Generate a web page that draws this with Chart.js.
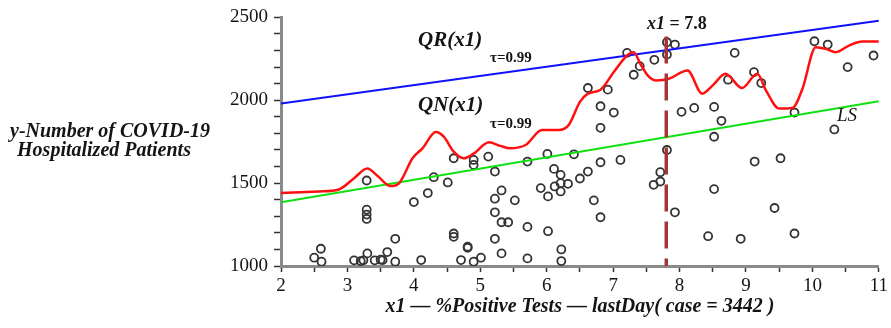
<!DOCTYPE html>
<html>
<head>
<meta charset="utf-8">
<script src="https://cdn.jsdelivr.net/npm/chart.js@4"></script>
<style>
  html, body { margin: 0; padding: 0; background: #fff; }
  #wrap { width: 891px; height: 328px; }
</style>
</head>
<body>
<div id="wrap"><canvas id="c" width="891" height="328"></canvas></div>
<script>
// Observed cases: % positive tests (last day) vs. hospitalized patients
const obsX = [2.50,2.60,2.61,3.10,3.20,3.24,3.30,3.29,3.29,3.29,3.29,3.41,3.50,3.53,3.60,3.72,3.72,
  4.00,4.11,4.21,4.30,4.51,4.60,4.60,4.60,4.71,4.81,4.81,4.90,4.90,4.90,5.01,5.12,5.22,5.22,5.22,5.22,
  5.32,5.32,5.32,5.42,5.52,5.71,5.71,5.71,5.91,6.01,6.02,6.02,6.11,6.12,6.21,6.21,6.21,6.32,6.22,6.22,
  6.41,6.50,6.62,6.62,6.71,6.81,6.81,6.81,6.81,6.92,7.01,7.11,7.21,7.31,7.40,7.61,7.62,7.71,7.71,
  7.81,7.81,7.81,7.93,7.93,8.03,8.22,8.43,8.52,8.52,8.52,8.63,8.73,8.83,8.92,9.12,9.13,9.23,9.43,
  9.52,9.73,9.73,10.03,10.23,10.33,10.53,10.92];
const obsY = [1050,1104,1026,1034,1030,1034,1076,1516,1340,1310,1284,1034,1038,1036,1084,1026,1164,
  1386,1036,1440,1536,1504,1650,1196,1176,1036,1116,1110,1640,1610,1026,1050,1660,1570,1406,1324,1164,
  1456,1264,1076,1264,1396,1630,1236,1046,1470,1676,1420,1210,1586,1480,1550,1500,1450,1496,1100,1030,
  1674,1528,1570,2074,1396,1964,1834,1626,1294,2064,1926,1640,2286,2154,2206,1490,2244,1566,1510,
  2350,2276,1700,2336,1324,1930,1954,1180,1960,1780,1464,1876,2124,2286,1164,2170,1630,2104,1350,
  1650,1926,1196,2356,2336,1824,2200,2270];

// Nonparametric quantile curve QN(x1), tau = 0.99
const qnX = [2.00,2.57,2.87,3.10,3.30,3.45,3.65,3.78,3.98,4.13,4.33,4.45,4.60,4.75,4.90,5.13,5.30,5.45,
  5.68,5.93,6.18,6.33,6.50,6.62,6.81,7.01,7.21,7.31,7.41,7.52,7.64,7.84,8.12,8.34,8.50,8.69,8.94,9.17,
  9.30,9.50,9.70,9.85,10.05,10.20,10.35,10.55,10.75,11.00];
const qnY = [1440,1450,1462,1530,1588,1545,1482,1500,1650,1710,1808,1780,1690,1650,1678,1746,1725,1710,
  1730,1820,1820,1850,1990,2040,2064,2170,2270,2290,2220,2150,2120,2130,2180,2040,2090,2160,2074,2160,
  2060,1950,1954,2070,2320,2310,2290,2330,2354,2354];

// Linear quantile regression QR(x1), tau = 0.99, and least-squares line LS
const qrX = [2, 11];
const qrY = [1980, 2480];
const lsX = [2, 11];
const lsY = [1384, 1994];

// Marked value of x1
const markX = 7.8;
const markY = [2385, 1000];

// Axis ranges and labelled ticks
const xRange = [2, 11];
const yRange = [1000, 2500];
const yLabelled = [1000, 1500, 2000, 2500];
const xLabelled = [2, 3, 4, 5, 6, 7, 8, 9, 10, 11];

const yTitleLines = ['y-Number of COVID-19', 'Hospitalized Patients'];
const xTitle = 'x1 \u2014 %Positive Tests \u2014 lastDay( case = 3442 )';

const pts = (xs, ys) => xs.map((x, i) => ({ x: x, y: ys[i] }));

const SERIF = '"Liberation Serif", "Times New Roman", serif';

const annotate = {
  id: 'annotate',
  afterDraw(chart) {
    const ctx = chart.ctx;
    ctx.save();
    ctx.fillStyle = '#141414';
    ctx.textBaseline = 'alphabetic';

    // vertical axis title, written horizontally on two lines
    ctx.textAlign = 'center';
    ctx.font = 'italic bold 20px ' + SERIF;
    ctx.fillText(yTitleLines[0], 110, 137);
    ctx.fillText(yTitleLines[1], 104, 156);

    ctx.textAlign = 'left';
    // curve names with their tau
    ctx.font = 'italic bold 21px ' + SERIF;
    ctx.fillText('QR(x1)', 418, 46);
    ctx.fillText('QN(x1)', 418, 111);
    ctx.font = 'bold 15px ' + SERIF;
    ctx.fillText('\u03c4=0.99', 490, 62);
    ctx.fillText('\u03c4=0.99', 490, 128);

    // LS label
    ctx.font = 'italic 19px ' + SERIF;
    ctx.fillText('LS', 837, 121);

    // x1 = 7.8 label
    let x = 647;
    ctx.font = 'italic bold 18px ' + SERIF;
    ctx.fillText('x1', x, 29);
    x += ctx.measureText('x1').width;
    ctx.font = 'bold 18px ' + SERIF;
    ctx.fillText(' = 7.8', x, 29);
    ctx.restore();
  }
};

Chart.defaults.font.family = SERIF;
Chart.defaults.color = '#141414';

new Chart(document.getElementById('c'), {
  type: 'scatter',
  data: {
    datasets: [
      {
        label: 'x1 = 7.8',
        data: pts([markX, markX], markY),
        showLine: true,
        borderColor: '#a33636',
        borderWidth: 3.5,
        borderDash: [27, 10],
        pointRadius: 0,
        order: 1
      },
      {
        label: 'QN',
        data: pts(qnX, qnY),
        showLine: true,
        borderColor: '#ff1010',
        borderWidth: 2.5,
        cubicInterpolationMode: 'monotone',
        pointRadius: 0,
        order: 2
      },
      {
        label: 'QR',
        data: pts(qrX, qrY),
        showLine: true,
        borderColor: '#1010ff',
        borderWidth: 2,
        pointRadius: 0,
        order: 3
      },
      {
        label: 'LS',
        data: pts(lsX, lsY),
        showLine: true,
        borderColor: '#10e010',
        borderWidth: 2,
        pointRadius: 0,
        order: 4
      },
      {
        label: 'cases',
        data: pts(obsX, obsY),
        showLine: false,
        pointStyle: 'circle',
        pointRadius: 4,
        pointBorderWidth: 1.8,
        pointBorderColor: '#333333',
        pointBackgroundColor: 'rgba(0,0,0,0)',
        order: 5
      }
    ]
  },
  options: {
    responsive: false,
    devicePixelRatio: 1,
    animation: false,
    events: [],
    layout: { padding: { left: 0, right: 10, top: 15, bottom: 0 } },
    plugins: { legend: { display: false }, tooltip: { enabled: false } },
    scales: {
      x: {
        type: 'linear',
        min: xRange[0],
        max: xRange[1],
        afterFit: s => { s.height = 62; },
        border: { display: true, color: '#8a8a8a', width: 3 },
        grid: { drawOnChartArea: false, drawTicks: true, tickLength: 6, color: '#333', tickWidth: 1.5 },
        ticks: {
          stepSize: 0.5,
          autoSkip: false,
          maxRotation: 0,
          padding: 3,
          font: { size: 19 },
          color: '#141414',
          callback: v => xLabelled.includes(v) ? String(v) : ''
        },
        title: {
          display: true,
          text: xTitle,
          font: { size: 20, style: 'italic', weight: 'bold' },
          color: '#141414',
          padding: { top: 0, bottom: 9 }
        }
      },
      y: {
        type: 'linear',
        min: yRange[0],
        max: yRange[1],
        afterFit: s => { s.width = 281; },
        border: { display: true, color: '#8a8a8a', width: 3 },
        grid: { drawOnChartArea: false, drawTicks: true, tickLength: 7, color: '#333', tickWidth: 1.5 },
        ticks: {
          stepSize: 100,
          autoSkip: false,
          padding: 6,
          font: { size: 19 },
          color: '#141414',
          callback: v => yLabelled.includes(v) ? String(v) : ''
        }
      }
    }
  },
  plugins: [annotate]
});
</script>
</body>
</html>
